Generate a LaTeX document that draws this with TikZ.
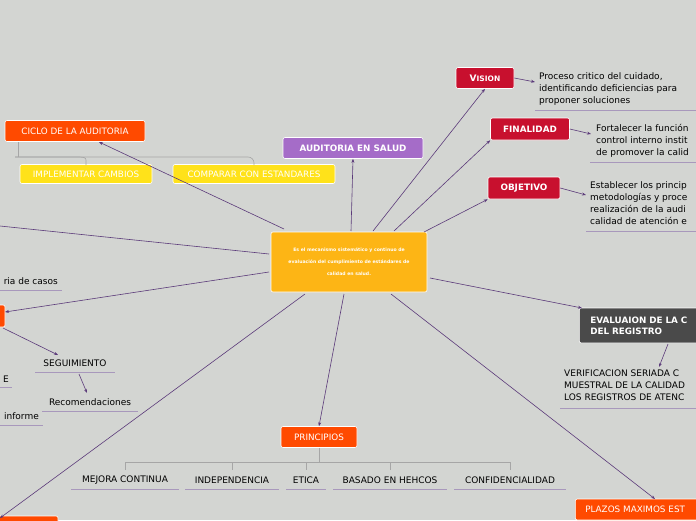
\documentclass[tikz,border=0pt]{standalone}
\usepackage{fontspec}
\setmainfont{DejaVu Sans}
\usetikzlibrary{arrows.meta}
\definecolor{bg}{HTML}{D3D5D2}
\definecolor{ln}{HTML}{5B3A7A}
\definecolor{ul}{HTML}{A898BC}
\definecolor{org}{HTML}{FF4A00}
\definecolor{yel}{HTML}{FFE21A}
\definecolor{pur}{HTML}{A56CC8}
\definecolor{crim}{HTML}{C8102E}
\definecolor{dgr}{HTML}{4A4A4A}
\definecolor{cen}{HTML}{FDB515}
\tikzset{
 box/.style={rounded corners=2pt,text=white,font=\fontsize{8.8}{10}\selectfont,inner sep=0pt,draw=white,line width=0.6pt},
 txt/.style={font=\fontsize{9}{12}\selectfont,inner sep=0pt,align=left},
 con/.style={draw=ln,line width=0.6pt,-{Stealth[length=4pt,width=3pt]}},
 und/.style={draw=ul,line width=1pt},
 brk/.style={draw=gray!70,line width=0.6pt}
}
\begin{document}
\begin{tikzpicture}[x=1pt,y=-1pt]
\useasboundingbox (0,0) rectangle (696,520);
\fill[bg] (0,0) rectangle (696,520);
\clip (0,0) rectangle (696,520);
% central
\node[box,fill=cen,minimum width=156pt,minimum height=60pt,align=center,font=\fontsize{4.6}{12}\selectfont\bfseries] (c) at (349,262) {Es el mecanismo sistemático y continuo de\\evaluación del cumplimiento de estándares de\\calidad en salud.};
% nodes
\node[box,fill=crim,minimum width=58pt,minimum height=21pt,font=\fontsize{9}{10}\selectfont\bfseries] (vis) at (485,78) {V\fontsize{7.5}{8}\selectfont ISION};
\node[box,fill=crim,minimum width=79pt,minimum height=22pt,font=\fontsize{8.8}{10}\selectfont\bfseries] (fin) at (530,129) {FINALIDAD};
\node[box,fill=crim,minimum width=72pt,minimum height=22pt,font=\fontsize{8.8}{10}\selectfont\bfseries] (obj) at (524,188) {OBJETIVO};
\node[box,fill=pur,minimum width=140pt,minimum height=21pt,font=\fontsize{8.8}{10}\selectfont\bfseries] (aud) at (353,148) {AUDITORIA EN SALUD};
\node[box,fill=org,minimum width=140pt,minimum height=21pt] (cic) at (75,131) {CICLO DE LA AUDITORIA};
\node[box,fill=yel,minimum width=132pt,minimum height=19pt] (imp) at (86,174) {IMPLEMENTAR CAMBIOS};
\node[box,fill=yel,minimum width=162pt,minimum height=19pt] (com) at (254,174) {COMPARAR CON ESTANDARES};
\node[box,fill=org,minimum width=76pt,minimum height=21pt] (pri) at (319,437) {PRINCIPIOS};
\node[box,fill=org,minimum width=20pt,minimum height=22pt] (lo) at (-5,316) {};
\node[box,fill=org,minimum width=80pt,minimum height=22pt] (lb) at (18,527) {};
\node[box,fill=dgr,minimum width=130pt,minimum height=35pt,anchor=west,align=left,text width=124pt,font=\fontsize{8.8}{11}\selectfont\bfseries] (eva) at (579,325.5) {\hspace*{8pt}EVALUAION DE LA C\\\hspace*{8pt}DEL REGISTRO};
\node[box,fill=org,minimum width=130pt,minimum height=21pt,anchor=west,align=left,text width=124pt] (pla) at (575,509.5) {\hspace*{7pt}PLAZOS MAXIMOS EST};
% texts
\node[txt,anchor=north west] (tvis) at (539,72) {Proceso critico del cuidado,\\identificando deficiencias para\\proponer soluciones};
\draw[und] (535,110) -- (696,110);
\node[txt,anchor=north west] (tfin) at (596,124) {Fortalecer la función\\control interno instit\\de promover la calid};
\draw[und] (590,162) -- (696,162);
\node[txt,anchor=north west] (tobj) at (590,181) {Establecer los princip\\metodologías y proce\\realización de la audi\\calidad de atención e};
\draw[und] (586,231) -- (696,231);
\node[txt,anchor=north west] (tev) at (564,370) {VERIFICACION SERIADA C\\MUESTRAL DE LA CALIDAD\\LOS REGISTROS DE ATENC};
\draw[und] (560,408) -- (696,408);
\node[txt,anchor=east] (tcas) at (58,281) {ria de casos};
\draw[und] (0,290) -- (62,290);
\node[txt] (seg) at (75,363) {SEGUIMIENTO};
\draw[und] (35,372) -- (115,372);
\node[txt,anchor=east] (te) at (9,379) {E};
\draw[und] (0,387) -- (12,387);
\node[txt] (rec) at (90,402) {Recomendaciones};
\draw[und] (42,411) -- (138,411);
\node[txt,anchor=east] (tinf) at (39,416) {informe};
\draw[und] (0,425) -- (43,425);
% principles
\foreach \n/\x/\t/\w in {p1/125/MEJORA CONTINUA/108,p2/232/INDEPENDENCIA/94,p3/306/ETICA/40,p4/390/BASADO EN HEHCOS/114,p5/510/CONFIDENCIALIDAD/112}{
 \node[txt] (\n) at (\x,480) {\t};
 \draw[und] (\x-\w/2,489) -- (\x+\w/2,489);
}
\draw[brk] (pri.south) -- (319,462);
\draw[brk] (125,470) -- (125,462) -- (510,462) -- (510,470);
\foreach \x in {232,306,390} \draw[brk] (\x,462) -- (\x,470);
% bracket under ciclo
\draw[brk] (86,165) -- (86,160) to[out=90,in=0] (80,157) -- (15,157);
\draw[brk] (15,157) -- (248,157) to[out=0,in=90] (254,163) -- (254,165);
\draw[brk] (18,142) -- (18,157);
% connectors
\draw[con] (373,231) -- (vis.south);
\draw[con] (394,231) -- (fin.south west);
\draw[con] (424,232) -- (obj.south west);
\draw[con] (351,231) -- (aud.south);
\draw[con] (284,229) -- (99,142);
\draw[draw=ln,line width=0.6pt] (269,254) -- (0,226);
\draw[con] (269,272) -- (5,312);
\draw[con] (305,294) -- (0,518);
\draw[con] (344,294) -- (pri.north);
\draw[con] (391,294) -- (655,499);
\draw[con] (430,278) -- (582,308);
\draw[con] (vis.east) -- (535,82);
\draw[con] (fin.east) -- (591,134);
\draw[con] (obj.east) -- (586,195);
\draw[con] (668,344) -- (659,367);
\draw[con] (3,328) -- (58,355);
\draw[con] (79,374) -- (87,393);
\end{tikzpicture}
\end{document}
